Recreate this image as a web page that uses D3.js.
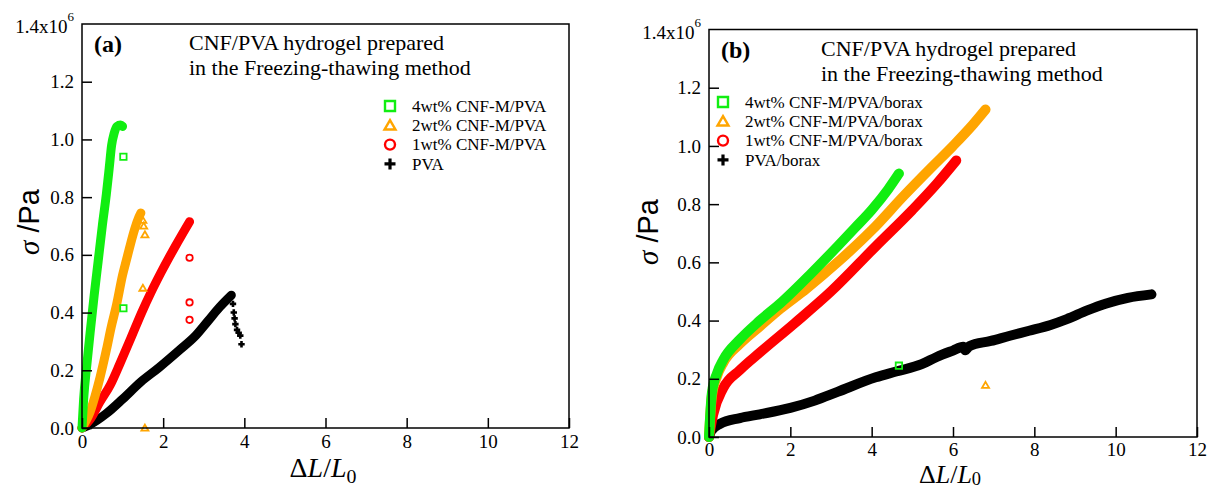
<!DOCTYPE html>
<html>
<head>
<meta charset="utf-8">
<script src="https://cdn.jsdelivr.net/npm/d3@7"></script>
<style>
  body { margin: 0; background: #fff; }
  text { font-family: "Liberation Serif", "Times New Roman", serif; fill: #000; }
</style>
</head>
<body>
<div id="chart"></div>
<script>
var width = 1208, height = 490;

// axis ticks (sigma in units of 10^6 Pa)
var xTicks = [0, 2, 4, 6, 8, 10, 12],
    yTicks = [0, 0.2, 0.4, 0.6, 0.8, 1.0, 1.2],
    yTickLabels = ["0.0", "0.2", "0.4", "0.6", "0.8", "1.0", "1.2"],
    yTopLabel = "1.4x10", yTopExp = "6";

var colors = ["#11EE11", "#FFA500", "#FF0000", "#000000"],
    shapes = ["square", "triangle", "circle", "plus"];

var titleLines = ["CNF/PVA hydrogel prepared", "in the Freezing-thawing method"];

// ---- panel (a) : freezing-thawing ----
var aLegend = ["4wt% CNF-M/PVA", "2wt% CNF-M/PVA", "1wt% CNF-M/PVA", "PVA"];

var a4wt = [[0,0],[0.04,0.1],[0.12,0.22],[0.2,0.33],[0.3,0.46],[0.4,0.58],[0.5,0.7],[0.6,0.81],[0.67,0.9],[0.73,0.98],[0.79,1.02],[0.86,1.045],[0.95,1.05],[1.0,1.045]];
var a4wtStray = [[1.02,0.94],[1.02,0.415]];

var a2wt = [[0,0],[0.1,0.025],[0.2,0.056],[0.32,0.11],[0.44,0.173],[0.6,0.27],[0.72,0.35],[0.85,0.426],[1.0,0.53],[1.1,0.585],[1.2,0.64],[1.3,0.69],[1.4,0.73],[1.45,0.745]];
var a2wtStray = [[1.5,0.72],[1.52,0.7],[1.55,0.67],[1.5,0.485],[1.55,0.0]];

var a1wt = [[0,0],[0.2,0.03],[0.44,0.09],[0.7,0.15],[0.94,0.225],[1.2,0.31],[1.47,0.4],[1.7,0.47],[1.94,0.537],[2.3,0.63],[2.65,0.715]];
var a1wtStray = [[2.65,0.59],[2.65,0.435],[2.65,0.375]];

var aPva = [[0,0],[0.2,0.012],[0.6,0.05],[1.0,0.1],[1.45,0.16],[1.9,0.21],[2.4,0.27],[2.8,0.32],[3.1,0.37],[3.4,0.42],[3.68,0.46]];
var aPvaStray = [[3.72,0.43],[3.74,0.4],[3.76,0.38],[3.78,0.36],[3.82,0.34],[3.86,0.33],[3.9,0.32],[3.93,0.29]];

// ---- panel (b) : with borax ----
var bLegend = ["4wt% CNF-M/PVA/borax", "2wt% CNF-M/PVA/borax", "1wt% CNF-M/PVA/borax", "PVA/borax"];

var b4wt = [[0,0],[0.07,0.15],[0.2,0.22],[0.35,0.265],[0.76,0.335],[1.25,0.4],[1.8,0.465],[2.5,0.56],[3.16,0.655],[3.6,0.72],[4.0,0.78],[4.4,0.85],[4.67,0.905]];
var b4wtStray = [[4.67,0.245]];

var b2wt = [[0,0],[0.07,0.14],[0.2,0.21],[0.35,0.255],[0.76,0.32],[1.25,0.38],[1.75,0.44],[2.4,0.51],[3.16,0.6],[4.0,0.71],[4.8,0.83],[5.5,0.93],[6.0,1.0],[6.5,1.075],[6.8,1.125]];
var b2wtStray = [[6.8,0.178]];

var b1wt = [[0,0],[0.1,0.076],[0.35,0.168],[0.76,0.23],[1.25,0.29],[2.1,0.39],[3.0,0.5],[4.1,0.655],[5.0,0.78],[5.6,0.87],[6.08,0.95]];
var b1wtStray = [];

var bPva = [[0,0],[0.05,0.02],[0.27,0.045],[0.76,0.065],[1.25,0.078],[2.0,0.1],[2.6,0.125],[3.16,0.155],[4.1,0.205],[4.6,0.225],[5.23,0.25],[5.6,0.275],[6.0,0.297],[6.25,0.31],[6.3,0.298],[6.4,0.312],[6.93,0.33],[7.4,0.348],[7.87,0.365],[8.4,0.385],[8.8,0.405],[9.3,0.435],[9.75,0.458],[10.3,0.478],[10.88,0.49]];
var bPvaStray = [];

var svg = d3.select("#chart").append("svg")
    .attr("width", width)
    .attr("height", height)
    .style("background", "#fff");

// marker path around 0,0 with half-size r
var markerPath = function (shape, r) {
  if (shape === "square") return "M" + (-r) + "," + (-r) + "h" + 2 * r + "v" + 2 * r + "h" + (-2 * r) + "Z";
  if (shape === "triangle") return "M0," + (-r * 1.05) + "L" + (r * 1.1) + "," + (r * 0.85) + "L" + (-r * 1.1) + "," + (r * 0.85) + "Z";
  if (shape === "circle") return "M" + (-r) + ",0a" + r + "," + r + " 0 1,0 " + 2 * r + ",0a" + r + "," + r + " 0 1,0 " + (-2 * r) + ",0";
  return "M" + (-r) + ",0H" + r + "M0," + (-r) + "V" + r; // plus
};

var drawPanel = function (p) {
  var x = d3.scaleLinear().domain([0, 12]).range([p.left, p.right]),
      y = d3.scaleLinear().domain([0, 1.4]).range([p.bottom, p.top]);

  var g = svg.append("g");

  // curves: drawn as thick bands, black first
  var line = d3.line()
    .x(function (d) { return x(d[0]); })
    .y(function (d) { return y(d[1]); })
    .curve(d3.curveMonotoneX);

  for (var i = p.series.length - 1; i >= 0; i--) {
    var s = p.series[i];
    g.append("path")
      .attr("d", line(s.curve))
      .attr("fill", "none")
      .attr("stroke", colors[i])
      .attr("stroke-width", p.band)
      .attr("stroke-linecap", "round")
      .attr("stroke-linejoin", "round");

    g.selectAll(null)
      .data(s.stray)
      .enter().append("path")
        .attr("transform", function (d) { return "translate(" + x(d[0]) + "," + y(d[1]) + ")"; })
        .attr("d", markerPath(shapes[i], 3.2))
        .attr("fill", "none")
        .attr("stroke", colors[i])
        .attr("stroke-width", i === 3 ? 2.6 : 1.8);
  }

  // frame
  g.append("rect")
    .attr("x", p.left).attr("y", p.top)
    .attr("width", p.right - p.left).attr("height", p.bottom - p.top)
    .attr("fill", "none").attr("stroke", "#000").attr("stroke-width", 1.5);

  // axes, ticks point inside
  var yAxis = g.append("g")
    .attr("transform", "translate(" + p.left + ",0)")
    .call(d3.axisLeft(y).tickValues(yTicks).tickSizeInner(-10).tickSizeOuter(0).tickPadding(8)
      .tickFormat(function (d, i) { return yTickLabels[i]; }));
  var xAxis = g.append("g")
    .attr("transform", "translate(0," + p.bottom + ")")
    .call(d3.axisBottom(x).tickValues(xTicks).tickSizeInner(-10).tickSizeOuter(0).tickPadding(p.xPad));

  [yAxis, xAxis].forEach(function (ax) {
    ax.select(".domain").remove();
    ax.selectAll("line").attr("stroke", "#000").attr("stroke-width", 1.5);
    ax.selectAll("text").attr("font-family", "Liberation Serif").attr("font-size", 19).attr("fill", "#000");
  });

  // top y label 1.4x10^6
  var top = g.append("text")
    .attr("x", p.left - 8).attr("y", p.top + 9)
    .attr("text-anchor", "end")
    .attr("font-size", 19);
  top.append("tspan").text(yTopLabel);
  top.append("tspan").attr("dy", -12).attr("font-size", 13).text(yTopExp);

  // axis titles
  var yl = g.append("text")
    .attr("transform", "translate(" + p.ylabX + "," + p.ylabY + ") rotate(-90)")
    .attr("text-anchor", "middle")
    .attr("font-size", 29);
  yl.append("tspan").attr("font-style", "italic").text("σ");
  yl.append("tspan").attr("font-family", "Liberation Sans").text(" /Pa");

  var xl = g.append("text")
    .attr("x", p.xlabX).attr("y", p.xlabY)
    .attr("text-anchor", "middle")
    .attr("font-size", p.xlabSize);
  xl.append("tspan").text("Δ");
  xl.append("tspan").attr("font-style", "italic").text("L");
  xl.append("tspan").text("/");
  xl.append("tspan").attr("font-style", "italic").text("L");
  xl.append("tspan").attr("dy", p.subDy).attr("font-size", p.xlabSize * 0.71).text("0");

  // panel tag and title
  g.append("text")
    .attr("x", p.left + 12).attr("y", p.top + 28)
    .attr("font-size", 24).attr("font-weight", "bold")
    .text(p.tag);
  g.selectAll(null)
    .data(titleLines)
    .enter().append("text")
      .attr("x", p.titleX)
      .attr("y", function (d, i) { return p.top + 26 + i * 25; })
      .attr("font-size", 22)
      .text(function (d) { return d; });

  // legend
  var lg = g.selectAll(null)
    .data(p.legend)
    .enter().append("g")
      .attr("transform", function (d, i) { return "translate(" + p.legX + "," + (p.legY + i * 19.3) + ")"; });
  lg.append("path")
    .attr("d", function (d, i) { return markerPath(shapes[i], i === 3 ? 5.5 : 5); })
    .attr("fill", "none")
    .attr("stroke", function (d, i) { return colors[i]; })
    .attr("stroke-width", function (d, i) { return i === 3 ? 3.2 : 2.4; });
  lg.append("text")
    .attr("x", 22).attr("dy", "0.33em")
    .attr("font-size", 17)
    .text(function (d) { return d; });
};

drawPanel({
  left: 82, right: 569, top: 24, bottom: 428, band: 9,
  tag: "(a)", titleX: 189, xPad: 7,
  ylabX: 39, ylabY: 222, xlabX: 323, xlabY: 477, xlabSize: 28, subDy: 6,
  legX: 390, legY: 106, legend: aLegend,
  series: [
    { curve: a4wt, stray: a4wtStray },
    { curve: a2wt, stray: a2wtStray },
    { curve: a1wt, stray: a1wtStray },
    { curve: aPva, stray: aPvaStray }
  ]
});

drawPanel({
  left: 709, right: 1197, top: 29.5, bottom: 437, band: 10,
  tag: "(b)", titleX: 821, xPad: 6,
  ylabX: 658, ylabY: 232, xlabX: 950, xlabY: 483, xlabSize: 26, subDy: 2,
  legX: 723, legY: 102, legend: bLegend,
  series: [
    { curve: b4wt, stray: b4wtStray },
    { curve: b2wt, stray: b2wtStray },
    { curve: b1wt, stray: b1wtStray },
    { curve: bPva, stray: bPvaStray }
  ]
});
</script>
</body>
</html>
